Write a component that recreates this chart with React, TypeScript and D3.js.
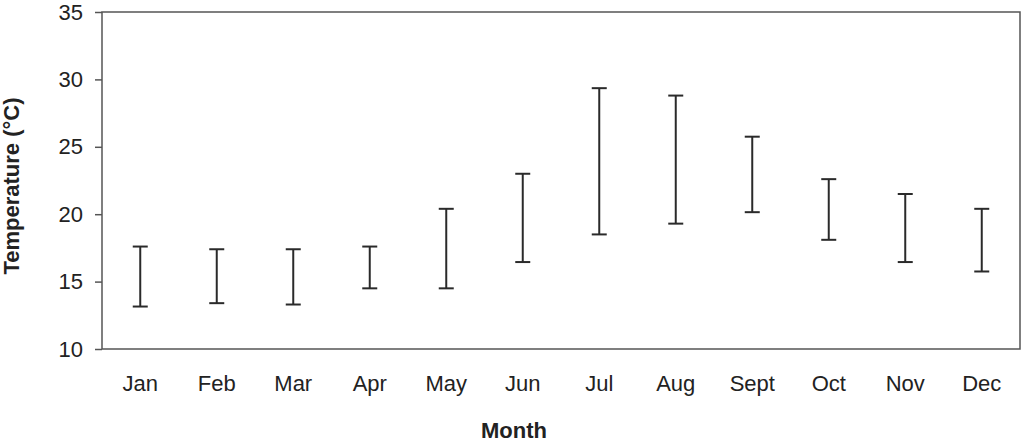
import React, { useEffect, useRef } from "react";
import * as d3 from "d3";

const months = ["Jan", "Feb", "Mar", "Apr", "May", "Jun", "Jul", "Aug", "Sept", "Oct", "Nov", "Dec"];
const highs = [17.6, 17.4, 17.4, 17.6, 20.4, 23.0, 29.35, 28.8, 25.75, 22.6, 21.5, 20.4];
const lows = [13.15, 13.4, 13.3, 14.5, 14.5, 16.45, 18.5, 19.3, 20.15, 18.1, 16.45, 15.75];
const yTicks = [10, 15, 20, 25, 30, 35];

const W = 1026;
const H = 443;
const margin = { left: 102, right: 6, top: 12, bottom: 94 };
const font = "Liberation Sans, Arial, sans-serif";

export default function App() {
  const ref = useRef<SVGSVGElement>(null);

  useEffect(() => {
    const svg = d3.select(ref.current);
    svg.selectAll("*").remove();

    const width = W - margin.left - margin.right;
    const height = H - margin.top - margin.bottom;

    const x = d3.scaleBand().domain(months).range([0, width]);
    const y = d3.scaleLinear().domain([10, 35]).range([height, 0]);

    const g = svg.append("g").attr("transform", `translate(${margin.left},${margin.top})`);

    // frame
    g.append("rect")
      .attr("width", width)
      .attr("height", height)
      .attr("fill", "none")
      .attr("stroke", "#555")
      .attr("stroke-width", 1.5);

    const yAxis = g.append("g").call(d3.axisLeft(y).tickValues(yTicks).tickSize(7).tickPadding(12));
    yAxis.select(".domain").remove();
    yAxis.selectAll(".tick line").attr("stroke", "#555").attr("stroke-width", 1.5);
    yAxis.selectAll(".tick text")
      .attr("font-family", font)
      .attr("font-size", 22)
      .attr("fill", "#222");

    const xAxis = g.append("g")
      .attr("transform", `translate(0,${height})`)
      .call(d3.axisBottom(x).tickSize(0).tickPadding(26));
    xAxis.select(".domain").remove();
    xAxis.selectAll(".tick text")
      .attr("font-family", font)
      .attr("font-size", 22)
      .attr("fill", "#222");

    const capW = 15;
    const bars = g.selectAll(".err")
      .data(months)
      .enter()
      .append("g")
      .attr("class", "err")
      .attr("stroke", "#2a2a2a")
      .attr("stroke-width", 2);

    bars.append("line")
      .attr("x1", (d) => x(d)! + x.bandwidth() / 2)
      .attr("x2", (d) => x(d)! + x.bandwidth() / 2)
      .attr("y1", (d, i) => y(highs[i]))
      .attr("y2", (d, i) => y(lows[i]));
    bars.append("line")
      .attr("x1", (d) => x(d)! + x.bandwidth() / 2 - capW / 2)
      .attr("x2", (d) => x(d)! + x.bandwidth() / 2 + capW / 2)
      .attr("y1", (d, i) => y(highs[i]))
      .attr("y2", (d, i) => y(highs[i]));
    bars.append("line")
      .attr("x1", (d) => x(d)! + x.bandwidth() / 2 - capW / 2)
      .attr("x2", (d) => x(d)! + x.bandwidth() / 2 + capW / 2)
      .attr("y1", (d, i) => y(lows[i]))
      .attr("y2", (d, i) => y(lows[i]));

    svg.append("text")
      .attr("x", 514)
      .attr("y", 438)
      .attr("text-anchor", "middle")
      .attr("font-family", font)
      .attr("font-weight", "bold")
      .attr("font-size", 22)
      .attr("fill", "#222")
      .text("Month");

    svg.append("text")
      .attr("transform", `translate(19,186) rotate(-90)`)
      .attr("text-anchor", "middle")
      .attr("font-family", font)
      .attr("font-weight", "bold")
      .attr("font-size", 22)
      .attr("fill", "#222")
      .text("Temperature (°C)");
  }, []);

  return (
    <div style={{ position: "absolute", left: 0, top: 0 }}>
      <svg ref={ref} width={W} height={H} style={{ display: "block", background: "#fff" }} />
    </div>
  );
}
